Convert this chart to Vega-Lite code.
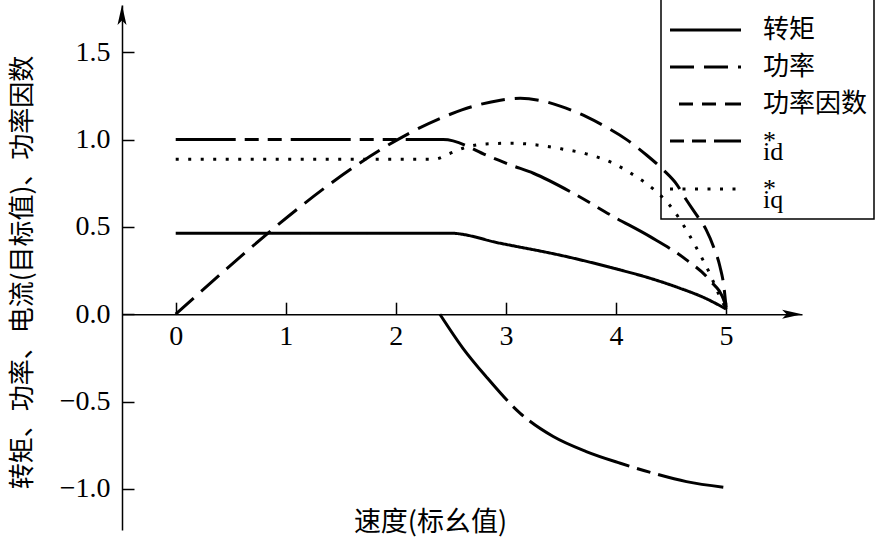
{
  "$schema": "https://vega.github.io/schema/vega-lite/v6.json",
  "width": 680,
  "height": 525,
  "autosize": {"type": "none"},
  "padding": {"left": 122, "top": 5, "right": 92, "bottom": 19},
  "background": "white",
  "config": {"view": {"stroke": null}, "font": "Liberation Serif"},
  "data": {"values": [
    {"series": "转矩", "speed": 0, "value": 0.464},
    {"series": "转矩", "speed": 2.49, "value": 0.464},
    {"series": "转矩", "speed": 2.95, "value": 0.406},
    {"series": "转矩", "speed": 3.55, "value": 0.33},
    {"series": "转矩", "speed": 3.98, "value": 0.263},
    {"series": "转矩", "speed": 4.31, "value": 0.206},
    {"series": "转矩", "speed": 4.58, "value": 0.149},
    {"series": "转矩", "speed": 4.8, "value": 0.095},
    {"series": "转矩", "speed": 5.0, "value": 0.03},
    {"series": "功率", "speed": 0, "value": 0},
    {"series": "功率", "speed": 2.43, "value": 1.128},
    {"series": "功率", "speed": 2.6, "value": 1.17},
    {"series": "功率", "speed": 2.76, "value": 1.2},
    {"series": "功率", "speed": 2.95, "value": 1.225},
    {"series": "功率", "speed": 3.13, "value": 1.236},
    {"series": "功率", "speed": 3.3, "value": 1.225},
    {"series": "功率", "speed": 3.5, "value": 1.19},
    {"series": "功率", "speed": 3.73, "value": 1.131},
    {"series": "功率", "speed": 3.9, "value": 1.075},
    {"series": "功率", "speed": 4.1, "value": 0.998},
    {"series": "功率", "speed": 4.28, "value": 0.91},
    {"series": "功率", "speed": 4.43, "value": 0.826},
    {"series": "功率", "speed": 4.55, "value": 0.745},
    {"series": "功率", "speed": 4.64, "value": 0.654},
    {"series": "功率", "speed": 4.73, "value": 0.57},
    {"series": "功率", "speed": 4.82, "value": 0.483},
    {"series": "功率", "speed": 4.89, "value": 0.38},
    {"series": "功率", "speed": 4.945, "value": 0.272},
    {"series": "功率", "speed": 4.98, "value": 0.16},
    {"series": "功率", "speed": 5.0, "value": 0.04},
    {"series": "功率因数", "speed": 0, "value": 1.0},
    {"series": "功率因数", "speed": 2.43, "value": 1.0},
    {"series": "功率因数", "speed": 2.855, "value": 0.902},
    {"series": "功率因数", "speed": 3.04, "value": 0.855},
    {"series": "功率因数", "speed": 3.25, "value": 0.807},
    {"series": "功率因数", "speed": 3.61, "value": 0.693},
    {"series": "功率因数", "speed": 3.976, "value": 0.559},
    {"series": "功率因数", "speed": 4.31, "value": 0.444},
    {"series": "功率因数", "speed": 4.64, "value": 0.311},
    {"series": "功率因数", "speed": 4.85, "value": 0.196},
    {"series": "功率因数", "speed": 4.99, "value": 0.063},
    {"series": "功率因数", "speed": 5.0, "value": 0.03},
    {"series": "i_d", "speed": 2.4, "value": 0},
    {"series": "i_d", "speed": 2.61, "value": -0.195},
    {"series": "i_d", "speed": 2.82, "value": -0.357},
    {"series": "i_d", "speed": 3.13, "value": -0.567},
    {"series": "i_d", "speed": 3.43, "value": -0.7},
    {"series": "i_d", "speed": 3.73, "value": -0.786},
    {"series": "i_d", "speed": 4.04, "value": -0.853},
    {"series": "i_d", "speed": 4.34, "value": -0.91},
    {"series": "i_d", "speed": 4.64, "value": -0.958},
    {"series": "i_d", "speed": 4.975, "value": -0.99},
    {"series": "i_q", "speed": 0, "value": 0.887},
    {"series": "i_q", "speed": 2.35, "value": 0.887},
    {"series": "i_q", "speed": 2.49, "value": 0.92},
    {"series": "i_q", "speed": 2.61, "value": 0.95},
    {"series": "i_q", "speed": 2.82, "value": 0.975},
    {"series": "i_q", "speed": 3.05, "value": 0.979},
    {"series": "i_q", "speed": 3.28, "value": 0.969},
    {"series": "i_q", "speed": 3.51, "value": 0.946},
    {"series": "i_q", "speed": 3.73, "value": 0.918},
    {"series": "i_q", "speed": 3.96, "value": 0.868},
    {"series": "i_q", "speed": 4.16, "value": 0.797},
    {"series": "i_q", "speed": 4.35, "value": 0.711},
    {"series": "i_q", "speed": 4.51, "value": 0.607},
    {"series": "i_q", "speed": 4.63, "value": 0.492},
    {"series": "i_q", "speed": 4.75, "value": 0.358},
    {"series": "i_q", "speed": 4.85, "value": 0.235},
    {"series": "i_q", "speed": 4.93, "value": 0.12},
    {"series": "i_q", "speed": 5.0, "value": 0.03}
  ]},
  "layer": [
    {
      "mark": {"type": "line", "color": "black", "strokeWidth": 3, "interpolate": "monotone"},
      "encoding": {
        "x": {
          "field": "speed", "type": "quantitative",
          "scale": {"domain": [-0.488, 5.69], "nice": false, "zero": false},
          "axis": {
            "values": [0, 1, 2, 3, 4, 5], "format": "d", "offset": -215.8,
            "tickSize": -12, "tickWidth": 1.5, "tickColor": "black",
            "domainWidth": 1.5, "domainColor": "black", "grid": false,
            "labelFont": "Liberation Serif", "labelFontSize": 28, "labelColor": "black",
            "labelPadding": 20, "labelFlush": false, "labelOverlap": false,
            "title": "速度(标幺值)", "titleFont": "Noto Sans CJK SC", "titleFontSize": 27,
            "titleFontWeight": "normal", "titleColor": "black",
            "titleX": 308, "titleY": 195, "titleBaseline": "top", "titleAlign": "center"
          }
        },
        "y": {
          "field": "value", "type": "quantitative",
          "scale": {"domain": [-1.235, 1.77], "nice": false, "zero": false},
          "axis": {
            "values": [-1, -0.5, 0, 0.5, 1, 1.5], "format": ".1f",
            "tickSize": -12, "tickWidth": 1.5, "tickColor": "black",
            "domainWidth": 1.5, "domainColor": "black", "grid": false,
            "labelFont": "Liberation Serif", "labelFontSize": 28, "labelColor": "black",
            "labelPadding": 24, "labelFlush": false, "labelOverlap": false,
            "title": "转矩、功率、电流(目标值)、功率因数", "titleFont": "Noto Sans CJK SC", "titleFontSize": 26,
            "titleFontWeight": "normal", "titleColor": "black",
            "titleAngle": 270, "titleX": -100, "titleY": 267, "titleBaseline": "middle", "titleAlign": "center"
          }
        },
        "strokeDash": {
          "field": "series", "type": "nominal",
          "scale": {
            "domain": ["转矩", "功率", "功率因数", "i_d", "i_q"],
            "range": [[1, 0], [24, 10], [60, 9, 14, 9, 14, 9], [110, 8, 14, 8], [3, 9.5]]
          },
          "legend": {
            "orient": "none", "direction": "vertical", "legendX": 539, "legendY": -7,
            "title": " ", "titleFontSize": 11, "titlePadding": 2,
            "strokeColor": "black", "padding": 6,
            "symbolType": "M-1,0H6.1", "symbolSize": 400, "symbolStrokeWidth": 3, "symbolStrokeColor": "black",
            "symbolFillColor": "transparent",
            "labelOffset": 70, "rowPadding": 11,
            "labelFont": "Noto Sans CJK SC", "labelFontSize": 26, "labelColor": "black", "labelLimit": 400,
            "labelExpr": "datum.label == 'i_d' ? ['\u200a*', 'id'] : datum.label == 'i_q' ? ['\u200a*', 'iq'] : datum.label == '功率因数' ? '功率因数\u3000' : datum.label",
            "encode": {
              "legend": {"update": {"strokeWidth": {"value": 1.5}}},
              "labels": {"update": {
                "font": {"signal": "(datum.value == 'i_d' || datum.value == 'i_q') ? 'Liberation Serif' : 'Noto Sans CJK SC'"},
                "lineHeight": {"value": 11}
              }},
              "symbols": {"update": {
                "strokeDashOffset": {"signal": "datum.value == '功率因数' ? 60 : datum.value == 'i_d' ? 96 : 0"}
              }}
            }
          }
        }
      }
    },
    {
      "data": {"values": [{}]},
      "mark": {"type": "point", "shape": "M1,0L-1,-0.45L-0.55,0L-1,0.45Z", "filled": true, "color": "black", "size": 400, "opacity": 1},
      "encoding": {"x": {"datum": 5.6}, "y": {"datum": 0}}
    },
    {
      "data": {"values": [{}]},
      "mark": {"type": "point", "shape": "M0,-1L-0.45,1L0,0.55L0.45,1Z", "filled": true, "color": "black", "size": 400, "opacity": 1},
      "encoding": {"x": {"datum": -0.488}, "y": {"datum": 1.713}}
    }
  ]
}
